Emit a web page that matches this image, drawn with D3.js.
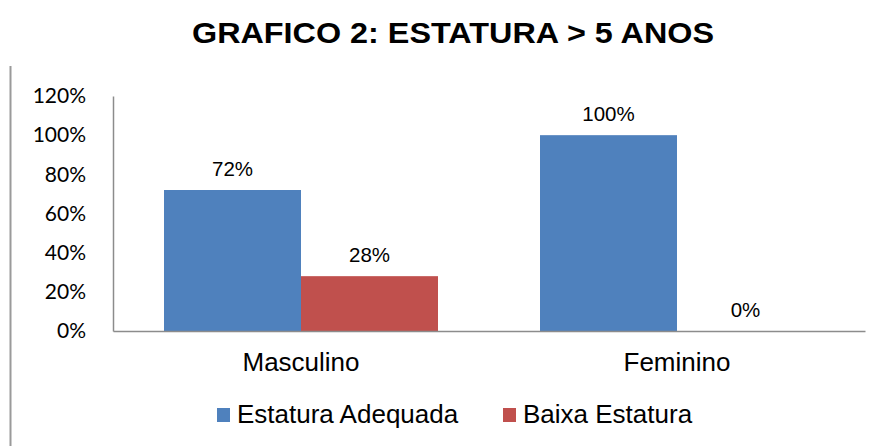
<!DOCTYPE html>
<html><head><meta charset="utf-8">
<script src="https://cdn.jsdelivr.net/npm/d3@7"></script>
<style>body{margin:0;background:#fff}</style>
</head><body>
<svg id="c" width="880" height="446"></svg>
<script>
const categories = ["Masculino", "Feminino"];
const seriesNames = ["Estatura Adequada", "Baixa Estatura"];
const estaturaAdequada = [72, 100];
const baixaEstatura = [28, 0];
const yTicks = [0, 20, 40, 60, 80, 100, 120];
const colors = ["#4F81BD", "#C0504D"];

const svg = d3.select("#c");
const mLeft = 113, mRight = 865, mTop = 96, mBottom = 331;
const sans = "Liberation Sans, Arial, sans-serif";

// left frame line
svg.append("line").attr("x1", 10.5).attr("x2", 10.5).attr("y1", 66).attr("y2", 446)
  .attr("stroke", "#9a9a9a").attr("stroke-width", 2);

svg.append("text").attr("x", 453).attr("y", 43).attr("text-anchor", "middle")
  .attr("font-family", sans).attr("font-weight", "bold")
  .attr("font-size", 30).attr("textLength", 522).attr("lengthAdjust", "spacingAndGlyphs")
  .text("GRAFICO 2: ESTATURA > 5 ANOS");

const x = d3.scaleBand().domain(categories).range([mLeft, mRight]).padding(0);
const xs = d3.scaleBand().domain(seriesNames).range([51, x.bandwidth() - 51]).padding(0);
const y = d3.scaleLinear().domain([0, 120]).range([mBottom, mTop]);

const series = [estaturaAdequada, baixaEstatura];
series.forEach((vals, si) => {
  categories.forEach((c, ci) => {
    const v = vals[ci];
    const bx = x(c) + xs(seriesNames[si]);
    svg.append("rect").attr("x", bx).attr("width", xs.bandwidth())
      .attr("y", y(v)).attr("height", y(0) - y(v)).attr("fill", colors[si]);
    svg.append("text").attr("x", bx + xs.bandwidth() / 2).attr("y", y(v) - 14)
      .attr("text-anchor", "middle").attr("font-family", sans)
      .attr("font-size", 20.5).attr("fill", "#000").text(v + "%");
  });
});

// y axis
const yAxis = svg.append("g").attr("transform", `translate(${mLeft},0)`)
  .call(d3.axisLeft(y).tickValues(yTicks).tickSize(0).tickPadding(27).tickFormat(d => d + "%"));
yAxis.select(".domain").attr("stroke", "#8c8c8c").attr("stroke-width", 1.5);
yAxis.selectAll("text").attr("font-family", "Lato, Open Sans, sans-serif").attr("font-size", 21).attr("fill", "#000");

// x axis
const xAxis = svg.append("g").attr("transform", `translate(0,${mBottom})`)
  .call(d3.axisBottom(x).tickSize(0).tickPadding(0));
xAxis.select(".domain").attr("stroke", "#8c8c8c").attr("stroke-width", 1.5);
xAxis.selectAll("text").attr("font-family", sans).attr("font-size", 26).attr("fill", "#000")
  .attr("dy", null).attr("y", 40);

// legend
const legendX = [217, 503];
seriesNames.forEach((s, i) => {
  svg.append("rect").attr("x", legendX[i]).attr("y", 408).attr("width", 13).attr("height", 14).attr("fill", colors[i]);
  svg.append("text").attr("x", legendX[i] + 20).attr("y", 423)
    .attr("font-family", sans).attr("font-size", 26).attr("fill", "#000").text(s);
});
</script>
</body></html>
